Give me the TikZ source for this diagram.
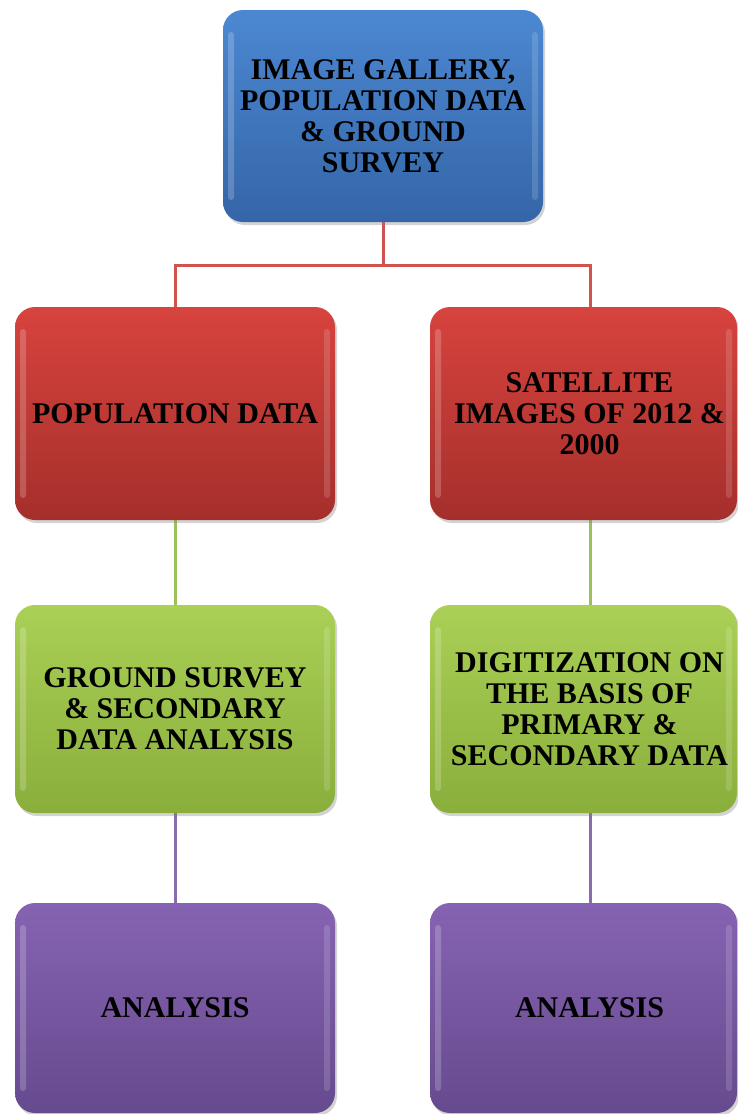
\documentclass[tikz,border=0pt]{standalone}
\usepackage{fontspec}
\setmainfont{Liberation Serif}
\usetikzlibrary{shadows,backgrounds}
\definecolor{bluetop}{HTML}{4C88D2}
\definecolor{bluebot}{HTML}{3465A8}
\definecolor{redtop}{HTML}{D8433E}
\definecolor{redbot}{HTML}{A52F2B}
\definecolor{greentop}{HTML}{AAD056}
\definecolor{greenbot}{HTML}{8AAE3B}
\definecolor{purtop}{HTML}{8663B2}
\definecolor{purbot}{HTML}{664A8E}
\definecolor{conred}{HTML}{CF5450}
\definecolor{congreen}{HTML}{9BC256}
\definecolor{conpurple}{HTML}{8A6BB0}
\newcommand\rsh{\hspace*{12pt}}
\tikzset{
  x=1pt, y=-1pt,
  boxbase/.style={rounded corners=20pt, inner sep=4pt, align=center,
    font=\fontsize{30}{31}\selectfont\bfseries, text=black,
    drop shadow={opacity=0.35, shadow xshift=2pt, shadow yshift=-3pt},
    path picture={
      \fill[white,opacity=0.2,rounded corners=3pt]
        ([xshift=5pt,yshift=-22pt]path picture bounding box.north west) rectangle
        ([xshift=11pt,yshift=22pt]path picture bounding box.south west);
      \fill[white,opacity=0.15,rounded corners=3pt]
        ([xshift=-5pt,yshift=-22pt]path picture bounding box.north east) rectangle
        ([xshift=-11pt,yshift=22pt]path picture bounding box.south east);
    }},
  bluebox/.style={boxbase, top color=bluetop, bottom color=bluebot},
  redbox/.style={boxbase, top color=redtop, bottom color=redbot},
  greenbox/.style={boxbase, top color=greentop, bottom color=greenbot},
  purplebox/.style={boxbase, top color=purtop, bottom color=purbot},
  conR/.style={draw=conred, line width=3pt},
  conG/.style={draw=congreen, line width=3pt},
  conP/.style={draw=conpurple, line width=3pt},
}
\begin{document}
\begin{tikzpicture}
\useasboundingbox (0,0) rectangle (738,1114);
\node[bluebox, minimum width=320pt, minimum height=212pt] (top) at (383,116)
  {IMAGE GALLERY,\\POPULATION DATA\\\& GROUND\\SURVEY};
\node[redbox, minimum width=320pt, minimum height=213pt] (pop) at (175,413.5)
  {POPULATION DATA};
\node[redbox, minimum width=307pt, minimum height=213pt] (sat) at (583.5,413.5)
  {\rsh SATELLITE\\\rsh IMAGES OF 2012 \&\\\rsh 2000};
\node[greenbox, minimum width=320pt, minimum height=208pt] (gs) at (175,709)
  {GROUND SURVEY\\\& SECONDARY\\DATA ANALYSIS};
\node[greenbox, minimum width=307pt, minimum height=208pt] (dig) at (583.5,709)
  {\rsh DIGITIZATION ON\\\rsh THE BASIS OF\\\rsh PRIMARY \&\\\rsh SECONDARY DATA};
\node[purplebox, minimum width=320pt, minimum height=210pt] (anl) at (175,1008)
  {ANALYSIS};
\node[purplebox, minimum width=307pt, minimum height=210pt] (anr) at (583.5,1008)
  {\rsh ANALYSIS};
\coordinate (jL) at (175,265);
\coordinate (jR) at (590,265);
\begin{pgfonlayer}{background}
\draw[conR] (top.south) -- (top.south |- jL);
\draw[conR] (pop.north) -- (jL) -- (jR) -- (jR |- sat.north);
\draw[conG] (pop.south) -- (gs.north);
\draw[conG] (jR |- sat.south) -- (jR |- dig.north);
\draw[conP] (gs.south) -- (anl.north);
\draw[conP] (jR |- dig.south) -- (jR |- anr.north);
\end{pgfonlayer}
\end{tikzpicture}
\end{document}
